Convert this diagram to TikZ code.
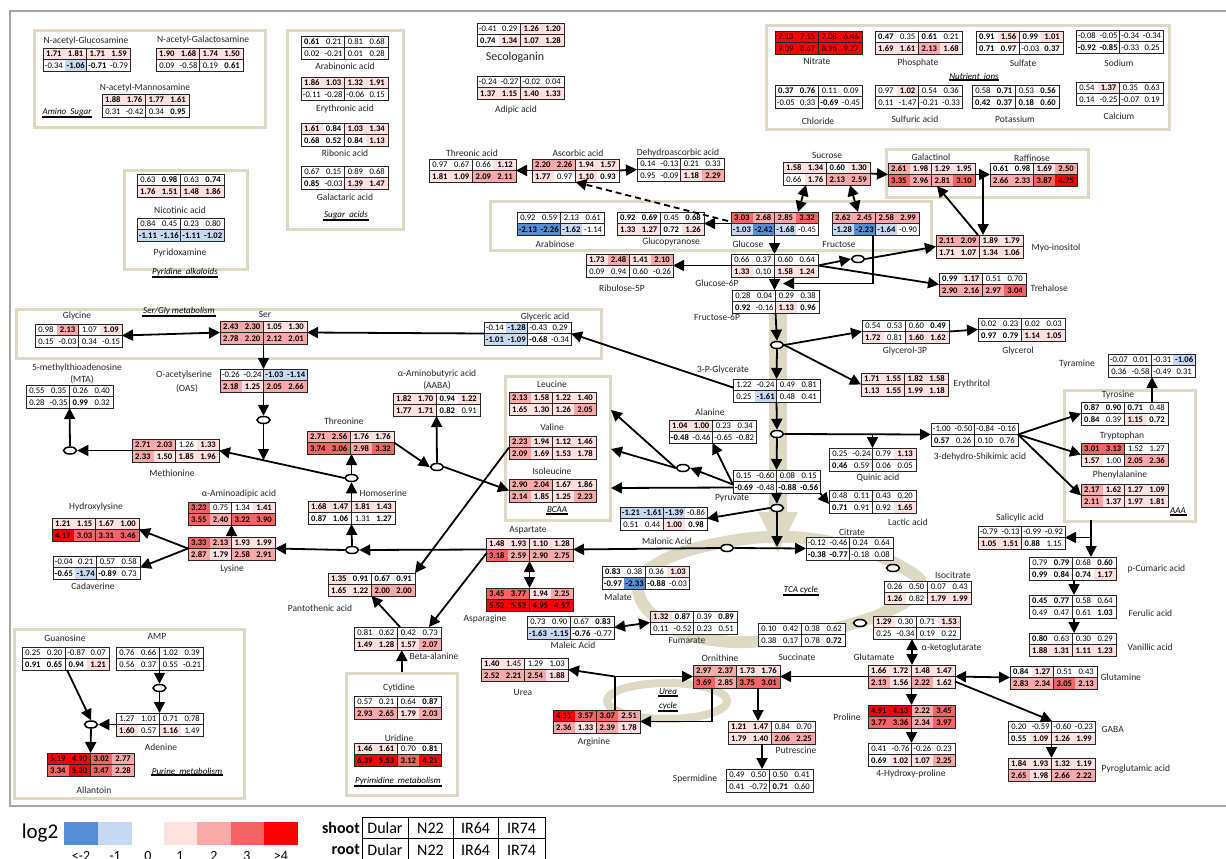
\documentclass[tikz,border=0pt]{standalone}
\usepackage{fontspec}
\setmainfont{Carlito}
\usetikzlibrary{arrows.meta,shapes.geometric,calc}
\definecolor{cdb}{HTML}{558ED5}
\definecolor{clb}{HTML}{C6D9F1}
\definecolor{cpa}{HTML}{FFE1E1}
\definecolor{cpb}{HTML}{F9A9A9}
\definecolor{cpc}{HTML}{F56464}
\definecolor{cpr}{HTML}{FF0000}
\definecolor{beige}{HTML}{DDD9C3}
\definecolor{framegray}{HTML}{A6A6A6}
\newif\ifcb \newif\ifcw
\def\cellparse#1#2\cpend{%
  \if b#1\cbtrue\cellparse#2\cpend
  \else\if w#1\cwtrue\cellparse#2\cpend
  \else\def\cval{#1#2}\fi\fi}
\def\pickcolor{%
  \ifcw\def\cellcol{white}\else
  \ifdim\cval pt<-2pt \def\cellcol{cdb}\else
  \ifdim\cval pt<-1pt \def\cellcol{clb}\else
  \ifdim\cval pt<1pt \def\cellcol{white}\else
  \ifdim\cval pt<2pt \def\cellcol{cpa}\else
  \ifdim\cval pt<3pt \def\cellcol{cpb}\else
  \ifdim\cval pt<4pt \def\cellcol{cpc}\else
  \def\cellcol{cpr}\fi\fi\fi\fi\fi\fi\fi}
\newcommand\drawcell[3]{%
  \cbfalse\cwfalse
  \expandafter\cellparse#3\cpend
  \pickcolor
  \ifcb\def\cfnt{\bfseries}\else\def\cfnt{}\fi
  \fill[fill=\cellcol] ({(#1-1)*21.75},{#2*11.5}) rectangle ++(21.75,11.5);
  \node[inner sep=0pt, font=\fontsize{8.6}{9}\selectfont] at ({(#1-0.5)*21.75},{(#2+0.5)*11.5+0.3}) {\cfnt\cval};
}
\newcommand\tb[5]{%
  \begin{scope}[shift={(#2,#3)}]
    \foreach \v [count=\i] in {#4} {\drawcell{\i}{0}{\v}}
    \foreach \v [count=\i] in {#5} {\drawcell{\i}{1}{\v}}
    \draw[tline] (0,0) rectangle (87,23) (0,11.5) -- (87,11.5) (43.5,0) -- (43.5,23);
  \end{scope}
  \node[tnode] (#1) at (#2,#3) {};
}
\newcommand\gb[5]{\node[gbox, minimum width=#4pt, minimum height=#5pt] (#1) at (#2,#3) {};}
\newcommand\glab[3]{\node[glbl] (#1) at (#2) {#3}; \draw[line width=2.2pt] ($(#1.south west)+(0,0.5)$) -- ($(#1.south east)+(0,0.5)$);}
\begin{document}
\begin{tikzpicture}[x=1pt,y=-1pt,
  tline/.style={draw=black!85, line width=0.8pt},
  tnode/.style={anchor=north west, minimum width=87pt, minimum height=23pt, inner sep=0pt, outer sep=0pt},
  lbl/.style={font=\fontsize{9.5}{11}\selectfont, inner sep=0.5pt, text=black!85},
  glbl/.style={font=\fontsize{9}{10}\selectfont\itshape, inner sep=0.5pt},
  gbox/.style={draw=beige, line width=2.6pt, anchor=north west, inner sep=0pt},
  arr/.style={line width=1.8pt, -{Triangle[length=11pt,width=11pt]}},
  darr/.style={line width=1.8pt, {Triangle[length=11pt,width=11pt]}-{Triangle[length=11pt,width=11pt]}},
  ov/.style={ellipse, draw, line width=1.5pt, fill=white, minimum width=13pt, minimum height=7pt, inner sep=0pt},
  lw/.style={lbl, anchor=west}
]
\useasboundingbox (0,0) rectangle (1226,859);
\fill[white] (0,0) rectangle (1226,859);
\draw[framegray, line width=2.5pt] (10,11) rectangle (1240,806);
% group boxes
\gb{aminobox}{33}{29}{231}{97}
\gb{pyrbox0}{123}{169}{123}{99}
\gb{sugacbox}{286}{29}{116}{199}
\gb{nutbox}{765}{24}{403}{104}
\gb{sugbox}{489}{200}{441}{49}
\gb{galbox}{885}{148}{202}{48}
\gb{sergly}{15}{308}{585}{49}
\gb{bcaa}{504}{375}{105}{144}
\gb{aaabox}{1063}{389}{131}{131}
\gb{pyrbox}{345}{672}{111}{122}
\gb{purbox}{13}{628}{230}{169}
% beige band and rings
\fill[beige] (769,300) rectangle (787,513);
\fill[beige] (758,512) -- (798,512) -- (778,552) -- cycle;
\draw[beige, line width=12pt] plot[smooth cycle, tension=0.7] coordinates {(638,590) (660,562) (720,543) (790,537) (855,548) (900,566) (922,586) (898,606) (852,624) (790,638) (720,641) (665,624)};
\draw[beige, line width=8pt] (667,701) ellipse [x radius=60, y radius=18];
% tables
\tb{nag}{43}{48}{b1.71,b1.81,b1.71,b1.59}{-0.34,b-1.06,b-0.71,-0.79}
\tb{nagal}{156}{48}{b1.90,b1.68,b1.74,b1.50}{0.09,-0.58,0.19,b0.61}
\tb{nam}{102}{94}{b1.88,b1.76,b1.77,b1.61}{0.31,-0.42,0.34,b0.95}
\tb{nic}{137}{174}{0.63,b0.98,0.63,b0.74}{b1.76,b1.51,b1.48,b1.86}
\tb{pyrx}{137}{218}{0.84,0.45,0.23,0.80}{b-1.11,b-1.16,b-1.11,b-1.02}
\tb{arab}{301}{36}{b0.61,0.21,0.81,0.68}{0.02,-0.21,0.01,0.28}
\tb{eryth}{301}{77}{b1.86,b1.03,b1.32,b1.91}{-0.11,-0.28,-0.06,0.15}
\tb{ribon}{301}{123}{b1.61,b0.84,b1.03,b1.34}{b0.68,b0.52,b0.84,b1.13}
\tb{galac}{301}{166}{0.67,0.15,0.89,0.68}{b0.85,-0.03,b1.39,b1.47}
\tb{seco}{477}{23}{-0.41,0.29,b1.26,b1.20}{b0.74,b1.34,b1.07,b1.28}
\tb{adip}{477}{76}{-0.24,-0.27,-0.02,0.04}{b1.37,b1.15,b1.40,b1.33}
\tb{threon}{429}{159}{0.97,0.67,0.66,b1.12}{b1.81,b1.09,b2.09,b2.11}
\tb{ascorb}{532}{159}{b2.20,b2.26,b1.94,b1.57}{b1.77,0.97,b1.10,b0.93}
\tb{dehyd}{637}{158}{0.14,-0.13,0.21,0.33}{0.95,-0.09,b1.18,b2.29}
\tb{arabinose}{517}{212}{0.92,0.59,w2.13,0.61}{b-2.13,b-2.26,b-1.62,w-1.14}
\tb{glcp}{617}{212}{b0.92,b0.69,0.45,b0.68}{b1.33,b1.27,b0.72,b1.26}
\tb{glc}{731}{212}{b3.03,b2.68,b2.85,b3.32}{b-1.03,b-2.42,b-1.68,-0.45}
\tb{fru}{832}{212}{b2.62,b2.45,b2.58,b2.99}{b-1.28,b-2.23,b-1.64,-0.90}
\tb{suc}{783}{162}{b1.58,b1.34,b0.60,b1.30}{0.66,b1.76,b2.13,b2.59}
\tb{galtol}{888}{163}{b2.61,b1.98,b1.29,b1.95}{b3.35,b2.96,b2.81,b3.10}
\tb{raff}{990}{163}{b0.61,b0.98,b1.69,b2.50}{b2.66,b2.33,b3.87,b4.75}
\tb{myo}{936}{235}{b2.11,b2.09,b1.89,b1.79}{b1.71,b1.07,b1.34,b1.06}
\tb{treh}{939}{273}{b0.99,b1.17,0.51,0.70}{b2.90,b2.16,b2.97,b3.04}
\tb{nitrate}{775}{31}{7.13,7.15,7.08,6.46}{9.09,8.67,8.96,9.27}
\tb{phos}{875}{31}{b0.47,0.35,b0.61,0.21}{b1.69,b1.61,b2.13,b1.68}
\tb{sulfate}{976}{31}{b0.91,b1.56,b0.99,b1.01}{b0.71,b0.97,-0.03,b0.37}
\tb{sodium}{1076}{30}{-0.08,-0.05,-0.34,-0.34}{b-0.92,b-0.85,-0.33,0.25}
\tb{chlor}{775}{85}{b0.37,b0.76,0.11,0.09}{-0.05,0.33,b-0.69,-0.45}
\tb{sulfur}{875}{85}{0.97,b1.02,0.54,0.36}{0.11,w-1.47,-0.21,-0.33}
\tb{potas}{972}{85}{0.58,b0.71,0.53,b0.56}{b0.42,b0.37,b0.18,b0.60}
\tb{calc}{1076}{82}{0.54,b1.37,0.35,0.63}{0.14,-0.25,-0.07,0.19}
\tb{g6p}{731}{254}{0.66,0.37,0.60,0.64}{b1.33,0.10,b1.58,b1.24}
\tb{ru5p}{586}{254}{b1.73,b2.48,b1.41,b2.10}{0.09,0.94,0.60,-0.26}
\tb{f6p}{732}{290}{0.28,0.04,0.29,0.38}{b0.92,-0.16,b1.13,b0.96}
\tb{glycine}{35}{324}{0.98,b2.13,w1.07,b1.09}{0.15,-0.03,0.34,-0.15}
\tb{ser}{220}{321}{b2.43,b2.30,b1.05,b1.30}{b2.78,b2.20,b2.12,b2.01}
\tb{glyceric}{484}{322}{-0.14,b-1.28,-0.43,0.29}{b-1.01,b-1.09,b-0.68,-0.34}
\tb{oas}{220}{369}{-0.26,-0.24,b-1.03,b-1.14}{b2.18,b1.25,b2.05,b2.66}
\tb{meth}{132}{439}{b2.71,b2.03,w1.26,b1.33}{b2.33,b1.50,b1.85,b1.96}
\tb{mta}{26}{385}{0.55,0.35,0.26,0.40}{0.28,-0.35,b0.99,0.32}
\tb{aminoad}{188}{502}{b3.23,0.75,w1.34,b1.41}{b3.55,b2.40,b3.22,b3.90}
\tb{lys}{188}{537}{b3.33,b2.13,b1.93,b1.99}{b2.87,b1.79,b2.58,b2.91}
\tb{hlys}{52}{518}{b1.21,b1.15,b1.67,b1.00}{b4.17,b3.03,b3.31,b3.46}
\tb{cad}{53}{556}{-0.04,0.21,0.57,0.58}{b-0.65,b-1.74,b-0.89,0.73}
\tb{hser}{308}{501}{b1.68,b1.47,b1.81,b1.43}{b0.87,wb1.06,w1.31,wb1.27}
\tb{thr}{307}{431}{b2.71,b2.56,b1.76,b1.76}{b3.74,b3.06,b2.98,b3.32}
\tb{aaba}{393}{393}{b1.82,b1.70,b0.94,b1.22}{b1.77,b1.71,b0.82,0.91}
\tb{leu}{509}{392}{b2.13,b1.58,b1.22,b1.40}{b1.65,b1.30,b1.26,b2.05}
\tb{val}{509}{436}{b2.23,b1.94,b1.12,b1.46}{b2.09,b1.69,b1.53,b1.78}
\tb{ile}{509}{479}{b2.90,b2.04,b1.67,b1.86}{b2.14,b1.85,b1.25,b2.23}
\tb{asp}{486}{538}{b1.48,b1.93,b1.10,b1.28}{b3.18,b2.59,b2.90,b2.75}
\tb{pg3}{733}{379}{w1.22,-0.24,0.49,0.81}{0.25,b-1.61,0.48,0.41}
\tb{g3p}{862}{320}{0.54,0.53,0.60,b0.49}{b1.72,0.81,b1.60,b1.62}
\tb{glycerol}{978}{318}{0.02,0.23,0.02,0.03}{b0.97,b0.79,b1.14,b1.05}
\tb{eryt}{861}{373}{b1.71,b1.55,b1.82,b1.58}{b1.13,b1.55,b1.99,b1.18}
\tb{ala}{669}{420}{b1.04,b1.00,0.23,0.34}{b-0.48,-0.46,-0.65,-0.82}
\tb{quin}{829}{448}{0.25,-0.24,0.79,b1.13}{b0.46,0.59,0.06,0.05}
\tb{shik}{931}{423}{-1.00,-0.50,-0.84,-0.16}{b0.57,0.26,0.10,0.76}
\tb{pyruv}{733}{470}{0.15,-0.60,0.08,0.15}{b-0.69,-0.48,b-0.88,b-0.56}
\tb{lact}{829}{490}{0.48,0.11,0.43,0.20}{b0.71,0.91,0.92,b1.65}
\tb{malon}{620}{507}{b-1.21,b-1.61,b-1.39,-0.86}{0.51,0.44,b1.00,b0.98}
\tb{citr}{806}{537}{-0.12,-0.46,0.24,0.64}{b-0.38,b-0.77,-0.18,0.08}
\tb{tyram}{1108}{354}{-0.07,0.01,-0.31,b-1.06}{0.36,-0.58,-0.49,0.31}
\tb{tyr}{1081}{402}{b0.87,b0.90,b0.71,0.48}{b0.84,0.39,b1.15,b0.72}
\tb{trp}{1081}{443}{b3.01,b3.13,w1.52,w1.27}{b1.57,w1.00,b2.05,b2.36}
\tb{phe}{1081}{484}{b2.17,b1.62,b1.27,b1.09}{b2.11,b1.37,b1.97,b1.81}
\tb{salic}{978}{526}{-0.79,-0.13,-0.99,-0.92}{b1.05,b1.51,b0.88,w1.15}
\tb{pcum}{1029}{557}{0.79,b0.79,0.68,b0.60}{b0.99,b0.84,b0.74,b1.17}
\tb{ferul}{1029}{595}{b0.45,b0.77,0.58,0.64}{0.49,0.47,0.61,wb1.03}
\tb{vanil}{1029}{633}{b0.80,0.63,0.30,0.29}{b1.88,b1.31,b1.11,b1.23}
\tb{gln}{1010}{666}{b0.84,b1.27,0.51,0.43}{b2.83,b2.34,b3.05,b2.13}
\tb{gaba}{1008}{721}{0.20,-0.59,-0.60,-0.23}{b0.55,b1.09,b1.26,b1.99}
\tb{pyroglu}{1008}{758}{b1.84,b1.93,b1.32,b1.19}{b2.65,b1.98,b2.66,b2.22}
\tb{malate}{602}{566}{b0.83,0.38,0.36,b1.03}{b-0.97,b-2.33,b-0.88,-0.03}
\tb{fum}{650}{611}{b1.32,b0.87,0.39,b0.89}{0.11,-0.52,0.23,0.51}
\tb{maleic}{527}{616}{0.73,0.90,0.67,b0.83}{b-1.63,b-1.15,b-0.76,-0.77}
\tb{succ}{758}{623}{0.10,0.42,0.38,0.62}{0.38,0.17,0.78,b0.72}
\tb{isocit}{884}{581}{0.26,0.50,0.07,0.43}{b1.26,0.82,b1.79,b1.99}
\tb{akg}{873}{616}{b1.29,0.30,0.71,b1.53}{0.25,-0.34,0.19,0.22}
\tb{glu}{868}{665}{b1.66,b1.72,b1.48,b1.47}{b2.13,b1.56,b2.22,b1.62}
\tb{pro}{868}{705}{b4.91,b4.13,b2.22,b3.45}{b3.77,b3.36,b2.34,b3.97}
\tb{hpro}{868}{743}{0.41,-0.76,-0.26,0.23}{b0.69,b1.02,b1.07,b2.25}
\tb{orn}{693}{665}{b2.97,b2.37,b1.73,b1.76}{b3.69,b2.85,b3.75,b3.01}
\tb{put}{728}{721}{b1.21,b1.47,0.84,0.70}{b1.79,b1.40,b2.06,b2.25}
\tb{spd}{726}{769}{0.49,0.50,0.50,0.41}{0.41,-0.72,b0.71,0.60}
\tb{arg}{553}{710}{b4.11,b3.57,b3.07,b2.51}{b2.36,b1.33,b2.39,b1.78}
\tb{urea}{481}{658}{b1.40,1.45,w1.29,w1.03}{b2.52,b2.21,b2.54,b1.88}
\tb{panto}{328}{573}{b1.35,b0.91,b0.67,b0.91}{b1.65,b1.22,b2.00,b2.00}
\tb{bala}{354}{627}{0.81,0.62,0.42,0.73}{b1.49,b1.28,b1.57,b2.07}
\tb{cyt}{354}{696}{0.57,0.21,0.64,b0.87}{b2.93,b2.65,b1.79,b2.03}
\tb{uri}{354}{743}{b1.46,b1.61,0.70,b0.81}{b6.39,b5.53,b3.12,b4.21}
\tb{asn}{486}{588}{b3.45,b3.77,b1.94,b2.25}{b5.52,b5.52,b4.95,b4.57}
\tb{guan}{22}{647}{0.25,0.20,-0.87,0.07}{b0.91,b0.65,b0.94,b1.21}
\tb{amp}{116}{647}{0.76,0.66,w1.02,0.39}{0.56,0.37,0.55,-0.21}
\tb{aden}{116}{713}{w1.27,w1.01,0.71,0.78}{b1.60,0.57,b1.16,w1.49}
\tb{allan}{47}{753}{b5.19,b4.90,b3.02,b2.77}{b3.34,b5.30,b3.47,b2.28}
% labels
\node[lbl] (Lnag) at (86,41) {N-acetyl-Glucosamine};
\node[lbl] (Lnagal) at (203,40) {N-acetyl-Galactosamine};
\node[lbl] (Lnam) at (145,88) {N-acetyl-Mannosamine};
\node[lbl] (Lnic) at (180,210) {Nicotinic acid};
\node[lbl] (Lpyrx) at (180,253) {Pyridoxamine};
\node[lbl] (Larab) at (345,66) {Arabinonic acid};
\node[lbl] (Leryth) at (345,109) {Erythronic acid};
\node[lbl] (Lribon) at (345,153) {Ribonic acid};
\node[lbl] (Lgalac) at (345,197) {Galactaric acid};
\node[lbl, font=\fontsize{12}{14}\selectfont] (Lseco) at (515,57) {Secologanin};
\node[lbl] (Ladip) at (516,110) {Adipic acid};
\node[lbl] (Lthreon) at (472,153) {Threonic acid};
\node[lbl] (Lascorb) at (578,153) {Ascorbic acid};
\node[lbl] (Ldehyd) at (678,153) {Dehydroascorbic acid};
\node[lbl] (Larabinose) at (555,244) {Arabinose};
\node[lbl] (Lglcp) at (671,242) {Glucopyranose};
\node[lbl] (Lglc) at (748,244) {Glucose};
\node[lbl] (Lfru) at (839,244) {Fructose};
\node[lbl] (Lsuc) at (827,155) {Sucrose};
\node[lbl] (Lgaltol) at (931,157) {Galactinol};
\node[lbl] (Lraff) at (1032,158) {Raffinose};
\node[lw] (Lmyo) at (1031,248) {Myo-inositol};
\node[lw] (Ltreh) at (1030,288) {Trehalose};
\node[lbl] (Lnitrate) at (817,61) {Nitrate};
\node[lbl] (Lphos) at (918,63) {Phosphate};
\node[lbl] (Lsulfate) at (1023,63) {Sulfate};
\node[lbl] (Lsodium) at (1119,63) {Sodium};
\node[lbl] (Lchlor) at (818,121) {Chloride};
\node[lbl] (Lsulfur) at (915,119) {Sulfuric acid};
\node[lbl] (Lpotas) at (1015,119) {Potassium};
\node[lbl] (Lcalc) at (1119,116) {Calcium};
\node[lbl] (Lg6p) at (717,283) {Glucose-6P};
\node[lbl] (Lru5p) at (622,288) {Ribulose-5P};
\node[lbl] (Lf6p) at (717,317) {Fructose-6P};
\node[lbl] (Lpg3) at (723,370) {3-P-Glycerate};
\node[lbl] (Lg3p) at (905,351) {Glycerol-3P};
\node[lbl] (Lglycerol) at (1018,351) {Glycerol};
\node[lw] (Leryt) at (953,384) {Erythritol};
\node[lbl] (Lala) at (710,412) {Alanine};
\node[lbl] (Lquin) at (878,478) {Quinic acid};
\node[lbl] (Lshik) at (980,457) {3-dehydro-Shikimic acid};
\node[lbl] (Lpyruv) at (732,498) {Pyruvate};
\node[lbl] (Llact) at (908,522) {Lactic acid};
\node[lbl] (Lmalon) at (667,541) {Malonic Acid};
\node[lbl] (Lcitr) at (852,532) {Citrate};
\node[lbl] (Lglycine) at (77,316) {Glycine};
\node[lbl] (Lser) at (265,314) {Ser};
\node[lbl] (Lglyceric) at (545,317) {Glyceric acid};
\node[lbl] (Loas) at (184,375) {O-acetylserine};
\node[lbl] (Loas2) at (187,389) {(OAS)};
\node[lbl] (Lmta) at (77,368) {5-methylthioadenosine};
\node[lbl] (Lmta2) at (82,380) {(MTA)};
\node[lbl] (Lmeth) at (172,473) {Methionine};
\node[lbl] (Laminoad) at (239,494) {α-Aminoadipic acid};
\node[lbl] (Llys) at (232,569) {Lysine};
\node[lbl] (Lhlys) at (96,507) {Hydroxylysine};
\node[lbl] (Lcad) at (93,586) {Cadaverine};
\node[lw] (Lhser) at (359,493) {Homoserine};
\node[lbl] (Lthr) at (344,421) {Threonine};
\node[lbl] (Laaba) at (437,374) {α-Aminobutyric acid};
\node[lbl] (Laaba2) at (437,386) {(AABA)};
\node[lbl] (Lleu) at (552,384) {Leucine};
\node[lbl] (Lval) at (552,427) {Valine};
\node[lbl] (Lile) at (552,471) {Isoleucine};
\node[lbl] (Lasp) at (528,530) {Aspartate};
\node[lbl] (Ltyram) at (1077,364) {Tyramine};
\node[lbl] (Ltyr) at (1118,395) {Tyrosine};
\node[lbl] (Ltrp) at (1122,436) {Tryptophan};
\node[lbl] (Lphe) at (1120,475) {Phenylalanine};
\node[lbl] (Lsalic) at (1020,518) {Salicylic acid};
\node[lw] (Lpcum) at (1127,569) {p-Cumaric acid};
\node[lw] (Lferul) at (1128,613) {Ferulic acid};
\node[lw] (Lvanil) at (1127,647) {Vanillic acid};
\node[lw] (Lgln) at (1100,677) {Glutamine};
\node[lw] (Lgaba) at (1101,729) {GABA};
\node[lw] (Lpyroglu) at (1101,769) {Pyroglutamic acid};
\node[lbl] (Lmalate) at (618,597) {Malate};
\node[lbl] (Lfum) at (687,640) {Fumarate};
\node[lbl] (Lmaleic) at (573,645) {Maleic Acid};
\node[lbl] (Lsucc) at (797,657) {Succinate};
\node[lbl] (Lisocit) at (953,575) {Isocitrate};
\node[lw] (Lakg) at (921,648) {α-ketoglutarate};
\node[lbl] (Lglu) at (874,657) {Glutamate};
\node[lbl] (Lpro) at (847,717) {Proline};
\node[lbl] (Lhpro) at (911,774) {4-Hydroxy-proline};
\node[lbl] (Lorn) at (720,658) {Ornithine};
\node[lbl] (Lput) at (796,750) {Putrescine};
\node[lbl] (Lspd) at (695,779) {Spermidine};
\node[lbl] (Larg) at (594,742) {Arginine};
\node[lbl] (Lurea) at (523,692) {Urea};
\node[lbl] (Lpanto) at (320,608) {Pantothenic acid};
\node[lw] (Lbala) at (409,656) {Beta-alanine};
\node[lbl] (Lcyt) at (399,688) {Cytidine};
\node[lbl] (Luri) at (399,738) {Uridine};
\node[lbl] (Lasn) at (485,619) {Asparagine};
\node[lbl] (Lguan) at (65,638) {Guanosine};
\node[lbl] (Lamp) at (157,636) {AMP};
\node[lbl] (Laden) at (161,747) {Adenine};
\node[lbl] (Lallan) at (94,790) {Allantoin};
% group labels
\glab{Gamino}{67,112}{Amino\ \ Sugar}
\glab{Gpyr}{185,272}{Pyridine\ \ alkaloids}
\glab{Gsugac}{346,215}{Sugar\ \ acids}
\glab{Gnut}{974,76}{Nutrient\ \ ions}
\glab{Gsergly}{179,311}{Ser/Gly metabolism}
\glab{Gbcaa}{557,510}{BCAA}
\glab{Gaaa}{1178,511}{AAA}
\glab{Gtca}{801,590}{TCA\ cycle}
\glab{Gurea}{668,692}{Urea}
\glab{Gcycle}{668,706}{cycle}
\glab{Gpyrim}{398,781}{Pyrimidine\ \ metabolism}
\glab{Gpur}{187,771}{Purine\ \ metabolism}
% coordinates
\coordinate (fj) at (783,283.5);
\coordinate (rj) at (983,174.5);
\coordinate (metj) at (263.5,460);
\coordinate (quinj) at (872.5,434.5);
\coordinate (tcaj) at (777,547);
\coordinate (bleu) at (611,410);
\coordinate (bval) at (611,449);
\coordinate (bile) at (611,488);
\coordinate (aaab) at (1091,520);
\coordinate (salj) at (1091,537.5);
\coordinate (argc) at (615,676.5);
% ovals
\node[ov] (o1) at (858,259) {};
\node[ov] (o2) at (777,345) {};
\node[ov] (o3) at (263.5,420) {};
\node[ov] (o4) at (351.5,478) {};
\node[ov] (o5) at (70,450.5) {};
\node[ov] (o6) at (352,550) {};
\node[ov] (o7) at (437,467) {};
\node[ov] (o8) at (727,548) {};
\node[ov] (o9) at (777,508) {};
\node[ov] (o10) at (777,434) {};
\node[ov] (o11) at (683,468) {};
\node[ov] (o12) at (159.5,688) {};
\node[ov] (o13) at (91,724.5) {};
\node[ov] (o14) at (893,568) {};
\node[ov] (o15) at (860,623) {};
% connectors
\draw[arr] (ascorb.west) -- (threon.east);
\draw[arr] (ascorb.east) -- (dehyd.west);
\draw[arr, dash pattern=on 6pt off 4pt] ($(glc.north west)+(-3,9)$) -- (ascorb.south);
\draw[arr] (glc.west) -- (glcp.east);
\draw[darr] ($(suc.south west)+(23,0)$) -- ($(glc.north east)+(-20,0)$);
\draw[darr] ($(suc.south west)+(67,0)$) -- ($(fru.north west)+(26,0)$);
\draw[arr] (suc.east) -- (galtol.west);
\draw[arr] (galtol.east) -- (raff.west);
\draw[arr] (rj) -- (rj |- myo.north);
\draw[arr] ($(myo.north west)+(42,0)$) -- ($(galtol.south west)+(49,0)$);
\draw[arr] (glc.south) -- (glc.south |- g6p.north);
\draw[arr] ($(fru.south west)+(41,0)$) |- (fj);
\draw[arr] (g6p.south) -- (g6p.south |- f6p.north);
\draw[arr] (g6p.west) -- (ru5p.east);
\draw[arr] (g6p.east) -- (o1.west);
\draw[arr] (o1.east) -- (myo.west);
\draw[arr] (g6p.east) -- (treh.west);
\draw[arr] (f6p.south) -- (o2.north);
\draw[arr] (o2.south) -- (pg3.north);
\draw[arr] (o2.east) -- (g3p.west);
\draw[arr] (o2.east) -- (eryt.west);
\draw[arr] (g3p.east) -- (glycerol.west);
\draw[arr] ($(pg3.west)+(0,-3)$) -- (glyceric.east);
\draw[arr] (glyceric.west) -- (ser.east);
\draw[darr] (glycine.east) -- (ser.west);
\draw[arr] (ser.south) -- (oas.north);
\draw[arr] (oas.south) -- (o3.north);
\draw[arr] (o3.south) -- (metj);
\draw[arr] (o4.west) -- (meth.east);
\draw[arr] (meth.west) -- (o5.east);
\draw[arr] (o5.north) -- (mta.south);
\draw[arr] (hser.north) -- (o4.south);
\draw[arr] (o4.north) -- (o4.north |- thr.south);
\draw[arr] (asp.west) -- (o6.east);
\draw[arr] (o6.north) -- (hser.south);
\draw[arr] (o6.west) -- (lys.east);
\draw[arr] (lys.north) -- (aminoad.south);
\draw[arr] (lys.west) -- (hlys.east);
\draw[arr] (lys.west) -- (cad.east);
\draw[arr] (thr.east) -- (o7.west);
\draw[arr] (o7.north) -- (aaba.south);
\draw[arr] (o7.east) -- (ile.west);
\draw[arr] (val.west) -- (panto.north east);
\draw[arr] ($(asp.west)+(1,3)$) -- ($(bala.north east)+(-12,0)$);
\draw[arr] ($(bala.north west)+(46,0)$) -- (panto.south);
\draw[arr] (pyrbox.north) -- (pyrbox.north |- bala.south);
\draw[darr] (asp.south) -- (asn.north);
\draw[arr] (o8.west) -- (asp.east);
\draw[arr] (o8.east) -- (citr.west);
\draw[arr] (pg3.south) -- (o10.north);
\draw[arr] (o10.south) -- (pyruv.north);
\draw[arr] (o10.east) -- (shik.west);
\draw[arr] (quinj) -- (quinj |- quin.north);
\draw[arr] (pyruv.south) -- (o9.north);
\draw[arr] (o9.south) -- (tcaj);
\draw[arr] (o9.west) -- (malon.east);
\draw[arr] ($(pyruv.west)+(0,3)$) -- (ala.south);
\draw[arr] ($(pyruv.west)+(0,3)$) -- (o11.east);
\draw[arr] ($(pyruv.west)+(0,6)$) -- (bile);
\draw[arr] (o11.west) -- (bleu);
\draw[arr] (o11.west) -- (bval);
\draw[arr] (pyruv.south east) -- ($(lact.north west)+(0,14)$);
\draw[arr] (shik.east) -- (tyr.west);
\draw[arr] (shik.east) -- (trp.west);
\draw[arr] (shik.east) -- (phe.west);
\draw[arr] ($(tyr.north west)+(71,0)$) -- ($(tyram.south west)+(44,0)$);
\draw[arr] (aaab) -- (aaab |- pcum.north);
\draw[arr] (salj) -- (salic.east);
\draw[arr] ($(pcum.south west)+(45,0)$) -- ($(ferul.north west)+(45,0)$);
\draw[arr] ($(ferul.south west)+(45,0)$) -- ($(vanil.north west)+(45,0)$);
\draw[darr] ($(akg.south west)+(39,0)$) -- ($(glu.north west)+(44,0)$);
\draw[arr] (glu.west) -- (orn.east);
\draw[arr] (glu.south) -- (pro.north);
\draw[arr] (pro.south) -- (hpro.north);
\draw[darr] (glu.east) -- (gln.west);
\draw[arr] ($(glu.east)+(0,5)$) -- ($(gaba.north west)+(44,0)$);
\draw[arr] (gaba.south) -- (pyroglu.north);
\draw[arr] ($(orn.south west)+(65,0)$) -- ($(put.north west)+(30,0)$);
\draw[arr] ($(put.south west)+(34,0)$) -- ($(spd.north west)+(36,0)$);
\draw[arr] ($(orn.south west)+(19,0)$) |- (arg.east);
\draw[arr] ($(arg.north west)+(62,0)$) |- (orn.west);
\draw[arr] (argc) -- (urea.east);
\draw[darr] (maleic.east) -- (fum.west);
\draw[arr] (amp.south) -- (o12.north);
\draw[arr] (o12.south) -- (aden.north);
\draw[arr] (aden.west) -- (o13.east);
\draw[arr] ($(guan.south west)+(45,0)$) -- (o13.north);
\draw[arr] (o13.south) -- (allan.north);
% legend
\node[font=\fontsize{21}{24}\selectfont, inner sep=0pt] (Llog) at (40,833) {log2};
\fill[cdb] (64,822) rectangle (98,845);
\fill[clb] (98,822) rectangle (132,845);
\fill[cpa] (164,822) rectangle (197,845);
\fill[cpb] (197,822) rectangle (231,845);
\fill[cpc] (231,822) rectangle (264,845);
\fill[cpr] (264,822) rectangle (298,845);
\foreach \t/\xx in {{<-2}/81,{-1}/115,{0}/148,{1}/180,{2}/214,{3}/247,{>4}/281}
  \node[font=\fontsize{14}{16}\selectfont, inner sep=0pt, anchor=north] at (\xx,851) {\t};
\draw[line width=0.8pt] (362,817) rectangle (545,875) (362,838) -- (545,838)
  (408,817) -- (408,875) (453,817) -- (453,875) (498,817) -- (498,875);
\node[font=\fontsize{16}{18}\selectfont\bfseries, anchor=east, inner sep=1pt] (Lshoot) at (361,828) {shoot};
\node[font=\fontsize{16}{18}\selectfont\bfseries, anchor=east, inner sep=1pt] (Lroot) at (361,850) {root};
\foreach \t/\xx in {Dular/385,N22/430.5,IR64/475.5,IR74/521.5} {
  \node[font=\fontsize{16}{18}\selectfont, inner sep=0pt] at (\xx,828) {\t};
  \node[font=\fontsize{16}{18}\selectfont, inner sep=0pt] at (\xx,850) {\t};
}
\end{tikzpicture}
\end{document}
